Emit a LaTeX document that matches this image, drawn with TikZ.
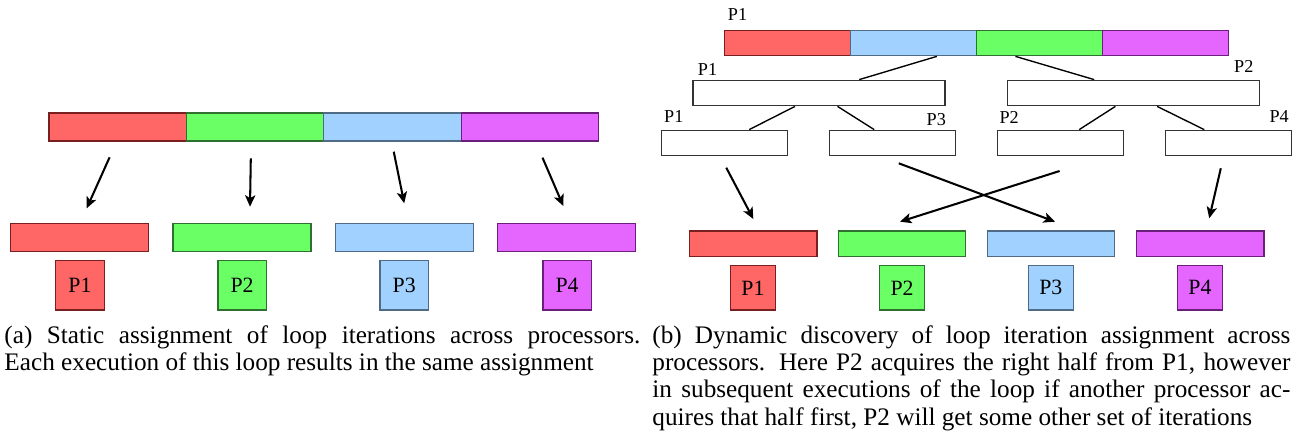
\documentclass[tikz,border=0pt]{standalone}
\usepackage{fontspec}
\setmainfont{Liberation Serif}
\usetikzlibrary{arrows.meta,calc}
\definecolor{rfill}{HTML}{FF6666}
\definecolor{rdraw}{HTML}{7A1F1F}
\definecolor{gfill}{HTML}{6BFF66}
\definecolor{gdraw}{HTML}{2F6F2F}
\definecolor{bfill}{HTML}{A1D2FF}
\definecolor{bdraw}{HTML}{4F6B85}
\definecolor{mfill}{HTML}{E466FF}
\definecolor{mdraw}{HTML}{6B1F7A}
\definecolor{wdraw}{HTML}{333333}
\begin{document}
\begin{tikzpicture}[x=0.44pt,y=-0.44pt,
  bx/.style={draw, inner sep=0pt, line width=0.6pt},
  sz/.style 2 args={minimum width=#1*0.44pt, minimum height=#2*0.44pt},
  rb/.style={bx, fill=rfill, draw=rdraw},
  gb/.style={bx, fill=gfill, draw=gdraw},
  bb/.style={bx, fill=bfill, draw=bdraw},
  mb/.style={bx, fill=mfill, draw=mdraw},
  wb/.style={bx, fill=white, draw=wdraw},
  pl/.style={font=\fontsize{9.6}{11}\selectfont},
  tl/.style={font=\fontsize{8}{9.6}\selectfont, inner sep=0pt},
  arr/.style={-{Stealth[length=5pt,width=4.5pt,inset=1.2pt]}, line width=0.9pt},
  ln/.style={line width=0.6pt, draw=black},
  captxt/.style={anchor=north west, inner sep=0pt, align=justify, font=\fontsize{11.1}{12}\selectfont}
]
\useasboundingbox (0,0) rectangle (1296,444);

% ---------------- (a) ----------------
\node[rb, sz={137.4}{28}] (at1) at (117.7,127) {};
\node[gb, sz={137.4}{28}] (at2) at (255.1,127) {};
\node[bb, sz={137.4}{28}] (at3) at (392.5,127) {};
\node[mb, sz={137.4}{28}] (at4) at (529.9,127) {};

\node[rb, sz={138}{28.4}] (ab1) at (79.6,237.5) {};
\node[gb, sz={138}{28.4}] (ab2) at (242,237.5) {};
\node[bb, sz={138}{28.4}] (ab3) at (404.4,237.5) {};
\node[mb, sz={138}{28.4}] (ab4) at (566.5,237.5) {};

\node[rb, sz={48.5}{49.3}, pl] (ap1) at (80,285.3) {P1};
\node[gb, sz={48.5}{49.3}, pl] (ap2) at (242.1,285.3) {P2};
\node[bb, sz={48.5}{49.3}, pl] (ap3) at (404.2,285.3) {P3};
\node[mb, sz={48.5}{49.3}, pl] (ap4) at (567.1,285.3) {P4};

\coordinate (as1) at (109.6,157.3);  \coordinate (ae1) at (86.7,208.3);
\coordinate (as2) at (250.8,158.3);  \coordinate (ae2) at (250,206.7);
\coordinate (as3) at (393.75,151.7); \coordinate (ae3) at (404.2,203.3);
\coordinate (as4) at (542.5,157.7);  \coordinate (ae4) at (563.3,206);
\draw[arr] (as1) -- (ae1);
\draw[arr] (as2) -- (ae2);
\draw[arr] (as3) -- (ae3);
\draw[arr] (as4) -- (ae4);

\node[captxt, text width=636*0.44pt] (capa) at (4,325) {(a) Static assignment of loop iterations across processors.\linebreak Each execution of this loop results in the same assignment};

% ---------------- (b) ----------------
\node[rb, sz={126}{25}] (bt1) at (787.5,43.2) {};
\node[bb, sz={126}{25}] (bt2) at (913.6,43.2) {};
\node[gb, sz={126}{25}] (bt3) at (1039.6,43.2) {};
\node[mb, sz={126}{25}] (bt4) at (1165.5,43.2) {};
\node[tl] (lt) at (737.5,15) {P1};

\node[wb, sz={252}{25.4}] (ml) at (819,93) {};
\node[wb, sz={252}{25.4}] (mr) at (1133.5,93) {};
\node[tl] (lml) at (707.5,69.3) {P1};
\node[tl] (lmr) at (1243.75,66.7) {P2};

\draw[ln] ($(bt2.south east)+(-40.5,0)$) -- ($(ml.north)+(40.2,0)$);
\draw[ln] ($(bt3.south west)+(39.5,0)$) -- ($(mr.north)+(-39.3,0)$);

\node[wb, sz={126}{25}] (l1) at (724.8,142.8) {};
\node[wb, sz={126}{25}] (l2) at (892.5,142.8) {};
\node[wb, sz={126}{25}] (l3) at (1060.4,142.8) {};
\node[wb, sz={126}{25}] (l4) at (1228.3,142.8) {};
\node[tl] (ll1) at (673.75,116.7) {P1};
\node[tl] (ll2) at (936.25,120) {P3};
\node[tl] (ll3) at (1009.2,117.3) {P2};
\node[tl] (ll4) at (1279.2,116.7) {P4};

\draw[ln] ($(ml.south)+(-24,0)$) -- ($(l1.north)+(24.4,0)$);
\draw[ln] ($(ml.south)+(18.5,0)$) -- ($(l2.north)+(-18.3,0)$);
\draw[ln] ($(mr.south)+(-18.1,0)$) -- ($(l3.north)+(18.8,0)$);
\draw[ln] ($(mr.south)+(23.6,0)$) -- ($(l4.north)+(-24.1,0)$);

\node[rb, sz={127.5}{25.7}] (bb1) at (753.1,243.8) {};
\node[gb, sz={127.5}{25.7}] (bb2) at (902,243.8) {};
\node[bb, sz={127.5}{25.7}] (bb3) at (1051,243.8) {};
\node[mb, sz={127.5}{25.7}] (bb4) at (1200.2,243.8) {};

\node[rb, sz={45}{44.3}, pl] (bp1) at (752.9,287.8) {P1};
\node[gb, sz={45}{44.3}, pl] (bp2) at (902.1,287.8) {P2};
\node[bb, sz={45}{44.3}, pl] (bp3) at (1050.8,287.8) {P3};
\node[mb, sz={45}{44.3}, pl] (bp4) at (1200,287.8) {P4};

\coordinate (bs1) at (726.25,167.7); \coordinate (be1) at (753.3,219);
\coordinate (bs2) at (898.75,163.3); \coordinate (be2) at (1055,221.7);
\coordinate (bs3) at (1059.6,171);   \coordinate (be3) at (900,221.7);
\coordinate (bs4) at (1220.8,168.3); \coordinate (be4) at (1209.2,218.3);
\draw[arr] (bs1) -- (be1);
\draw[arr] (bs2) -- (be2);
\draw[arr] (bs3) -- (be3);
\draw[arr] (bs4) -- (be4);

\node[captxt, text width=638*0.44pt] (capb) at (652,325) {(b) Dynamic discovery of loop iteration assignment across\linebreak processors. Here P2 acquires the right half from P1, however\linebreak in subsequent executions of the loop if another processor ac-\linebreak quires that half first, P2 will get some other set of iterations};
\end{tikzpicture}
\end{document}
